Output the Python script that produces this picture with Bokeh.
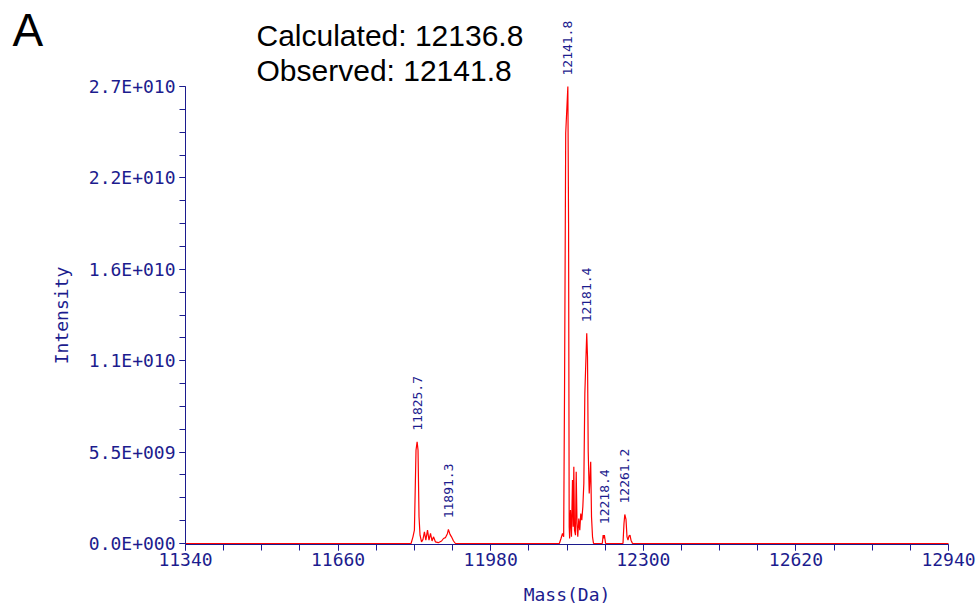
import math
from bokeh.plotting import figure
from bokeh.models import FixedTicker, Range1d, Label, LabelSet, ColumnDataSource
from bokeh.core.properties import value
from bokeh.embed import file_html
from bokeh.resources import INLINE

# ---- data ----
mass = [11340, 11813, 11817, 11820, 11823.4, 11825.7, 11827.6, 11829.7, 11831.8, 11835,
        11838, 11841, 11844, 11847.5, 11850.6, 11853.8, 11857, 11860, 11864, 11870,
        11877, 11881, 11885, 11889.4, 11891.3, 11894.7, 11897.8, 11902, 11906,
        12124, 12127.4, 12130.6, 12133, 12134.8, 12137.3, 12141.8, 12143.3, 12144.6, 12145.5,
        12147.3, 12149.4, 12151.5, 12153, 12154.3, 12155.7, 12157.8, 12159.3, 12161, 12162.6,
        12164.7, 12166.8, 12168.9, 12171, 12173.2, 12175.3, 12177.4, 12181.4, 12183, 12184.5,
        12186.6, 12188.3, 12189.7, 12191.4, 12193.5, 12195.6,
        12214, 12215.8, 12217, 12218.4, 12221,
        12257.4, 12259.5, 12261.2, 12263.7, 12265.8, 12267.9, 12270, 12272.1, 12274.2, 12277.4,
        12940]
intensity = [0, 0, 0.4e9, 0.8e9, 5.6e9, 6.1e9, 5.6e9, 1.6e9, 0.5e9, 0.1e9,
             0.25e9, 0.7e9, 0.2e9, 0.8e9, 0.2e9, 0.6e9, 0.15e9, 0.4e9, 0.1e9, 0.05e9,
             0.15e9, 0.3e9, 0.35e9, 0.6e9, 0.85e9, 0.55e9, 0.4e9, 0.15e9, 0,
             0, 0.3e9, 0.6e9, 0.4e9, 9.0e9, 2.46e10, 2.74e10, 1.92e10, 1.0e9, 0.3e9,
             2.0e9, 0.4e9, 3.8e9, 1.0e9, 4.6e9, 0.8e9, 0.5e9, 4.3e9, 1.2e9, 0.4e9,
             1.5e9, 0.8e9, 1.8e9, 1.4e9, 2.2e9, 3.6e9, 9.0e9, 1.26e10, 1.12e10, 5.5e9,
             3.0e9, 4.0e9, 4.9e9, 1.6e9, 0.4e9, 0,
             0, 0.5e9, 0.3e9, 0.5e9, 0,
             0, 1.2e9, 1.74e9, 1.45e9, 0.4e9, 0.2e9, 0.45e9, 0.5e9, 0.2e9, 0,
             0]

peak_mass = [11825.7, 11891.3, 12141.8, 12181.4, 12218.4, 12261.2]
peak_height = [6.1e9, 0.85e9, 2.74e10, 1.26e10, 0.5e9, 1.74e9]
peak_text = ["11825.7", "11891.3", "12141.8", "12181.4", "12218.4", "12261.2"]

x_min, x_max = 11340, 12940
x_ticks = [11340, 11660, 11980, 12300, 12620, 12940]
x_minor = list(range(11340, 12941, 80))
y_max = 2.74e10
y_ticks = [0, 5.48e9, 1.096e10, 1.644e10, 2.192e10, 2.74e10]
y_tick_labels = ["0.0E+000", "5.5E+009", "1.1E+010", "1.6E+010", "2.2E+010", "2.7E+010"]
y_minor = [i * 1.37e9 for i in range(21)]

panel_text = "A"
calc_text = "Calculated: 12136.8"
obs_text = "Observed: 12141.8"

NAVY = "#1c1c8e"
MONO = "DejaVu Sans Mono"

# ---- layout (pixels in the 979x608 canvas) ----
W, H = 979, 608
ax_left_px, ax_right_px = 185, 948      # where x_min / x_max sit
ax_top_px, ax_bot_px = 86, 543          # where y_max / 0 sit
sx = (ax_right_px - ax_left_px) / (x_max - x_min)
sy = (ax_bot_px - ax_top_px) / y_max
xr = Range1d(x_min - ax_left_px / sx, x_max + (W - ax_right_px) / sx)
yr = Range1d(-(H - ax_bot_px) / sy, y_max + ax_top_px / sy)
axis_y = -1.0 / sy                      # x axis one pixel under the baseline

p = figure(width=W, height=H, output_backend="svg", toolbar_location=None,
           x_range=xr, y_range=yr,
           min_border_left=0, min_border_right=0, min_border_top=0, min_border_bottom=0,
           x_axis_label="Mass(Da)", y_axis_label="Intensity")
p.outline_line_color = None
p.grid.visible = False
p.background_fill_color = "white"

p.xaxis.ticker = FixedTicker(ticks=x_ticks, minor_ticks=x_minor)
p.yaxis.ticker = FixedTicker(ticks=y_ticks, minor_ticks=y_minor)
p.yaxis.major_label_overrides = {t: l for t, l in zip(y_ticks, y_tick_labels)}
p.xaxis.major_label_overrides = {t: str(t) for t in x_ticks}
p.xaxis.fixed_location = axis_y
p.yaxis.fixed_location = x_min
p.xaxis.bounds = (x_min, x_max)
p.yaxis.bounds = (axis_y, y_max)

for ax in (p.xaxis[0], p.yaxis[0]):
    ax.axis_line_color = NAVY
    ax.major_tick_line_color = NAVY
    ax.minor_tick_line_color = NAVY
    ax.major_tick_in = 0
    ax.major_tick_out = 6
    ax.minor_tick_in = 0
    ax.minor_tick_out = 6
    ax.major_label_text_font = MONO
    ax.major_label_text_font_size = "18px"
    ax.major_label_text_color = NAVY
    ax.axis_label_text_font = MONO
    ax.axis_label_text_font_size = "18px"
    ax.axis_label_text_font_style = "normal"
    ax.axis_label_text_color = NAVY
p.xaxis.major_label_standoff = 2
p.yaxis.major_label_standoff = 4
p.xaxis.axis_label_standoff = 15
p.yaxis.axis_label_standoff = 14

p.line(mass, intensity, line_color="#ff0000", line_width=1.2)

src = ColumnDataSource(dict(x=peak_mass, y=peak_height, t=peak_text))
p.add_layout(LabelSet(x="x", y="y", text="t", source=src, angle=math.pi / 2,
                      y_offset=11, text_align="left", text_baseline="middle",
                      text_font=value(MONO), text_font_size=value("13px"),
                      text_color=NAVY))

p.add_layout(Label(x=12, y=H - 49 + 20, x_units="screen", y_units="screen", text=panel_text,
                   text_font="Liberation Sans", text_font_size="46px",
                   text_color="black", text_baseline="alphabetic"))
p.add_layout(Label(x=256, y=H - 48 + 13, x_units="screen", y_units="screen", text=calc_text,
                   text_font="Liberation Sans", text_font_size="30px",
                   text_color="black", text_baseline="alphabetic"))
p.add_layout(Label(x=256, y=H - 83 + 13, x_units="screen", y_units="screen", text=obs_text,
                   text_font="Liberation Sans", text_font_size="30px",
                   text_color="black", text_baseline="alphabetic"))

open("out.html", "w").write(file_html(p, INLINE))
